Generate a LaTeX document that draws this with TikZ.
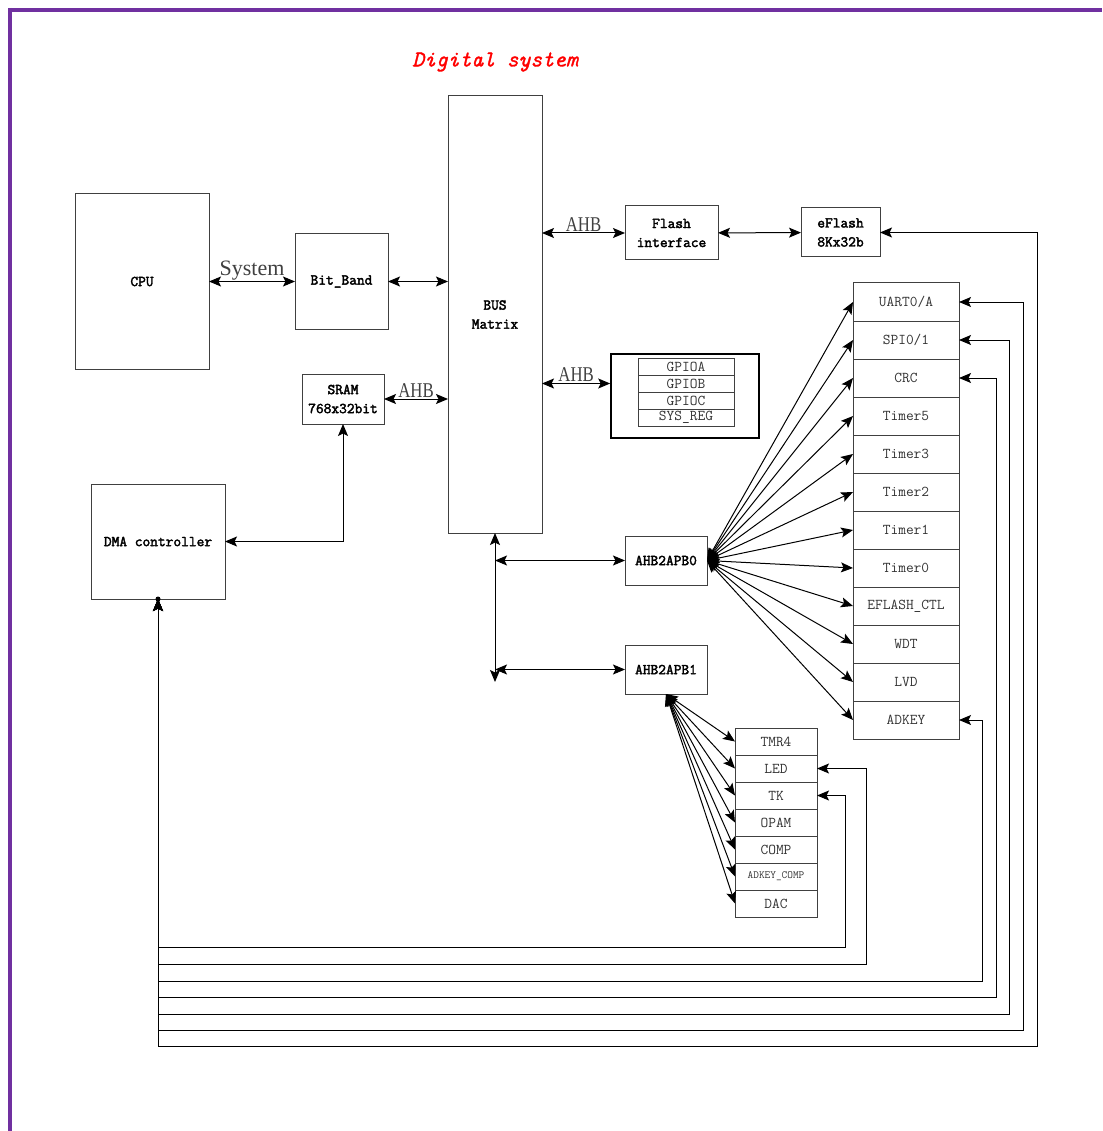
\documentclass[tikz,border=0pt]{standalone}
\usepackage{fontspec}
\setmainfont{Liberation Serif}
\newfontfamily\simserif{Liberation Serif}[FakeStretch=0.8]
\newfontfamily\simbold{Latin Modern Mono}[FakeBold=2.5]
\newfontfamily\simtitle{Latin Modern Mono}[FakeBold=1.5]
\usetikzlibrary{arrows.meta,positioning,calc}
\definecolor{frame}{HTML}{7030A0}
\definecolor{edge}{HTML}{404040}
\tikzset{box/.style={draw=edge,line width=1pt,inner sep=0pt,outer sep=0pt,align=center,
  font=\simbold\fontsize{15}{19}\selectfont},
  cell/.style={draw=edge,line width=1pt,inner sep=0pt,outer sep=0pt,
  font=\ttfamily\fontsize{15}{17}\selectfont,text=black!80},
  biarrow/.style={{Stealth[length=12pt,width=10pt,inset=2.5pt]}-{Stealth[length=12pt,width=10pt,inset=2.5pt]},line width=1pt},
  buslabel/.style={font=\simserif\fontsize{21}{23}\selectfont,text=black!75,inner sep=1pt}}

\begin{document}
\begin{tikzpicture}[x=1pt,y=-1pt]
\useasboundingbox (0,0) rectangle (1102,1131);
\draw[frame,line width=4pt] (8,10) -- (1102,10);
\draw[frame,line width=4pt] (9.5,8) -- (9.5,1131);
\node[text=red,font=\simtitle\itshape\fontsize{22.5}{26}\selectfont] (title) at (495,62) {Digital system};

% blocks
\node[box,minimum width=134pt,minimum height=175pt] (cpu) at (142,281.5) {CPU};
\node[box,minimum width=93pt,minimum height=95pt] (bitband) at (341.5,281.5) {Bit\_Band};
\node[box,minimum width=94pt,minimum height=437pt] (busmatrix) at (495,314.5) {BUS\\Matrix};
\node[box,minimum width=82pt,minimum height=50pt] (sram) at (343,399) {SRAM\\768x32bit};
\node[box,minimum width=93pt,minimum height=54pt] (flashif) at (671.5,233) {Flash\\interface};
\node[box,minimum width=79pt,minimum height=49pt] (eflash) at (840.5,232.5) {eFlash\\8Kx32b};
\node[box,minimum width=134pt,minimum height=115pt] (dma) at (158,541.5) {DMA controller};
\node[box,minimum width=82pt,minimum height=49pt] (apbzero) at (666,560.5) {AHB2APB0};
\node[box,minimum width=82pt,minimum height=49pt] (apbone) at (666,669.5) {AHB2APB1};

% gpio group
\node[draw,line width=1.6pt,minimum width=148pt,minimum height=84pt] (gpio) at (685,396) {};
\foreach \nm/\lbl [count=\i] in {gpioa/GPIOA,gpiob/GPIOB,gpioc/GPIOC,sysreg/SYS\_REG}
  \node[cell,minimum width=96pt,minimum height=17pt] (\nm) at (686,349.5+17*\i) {\lbl};

% APB0 peripherals
\foreach \nm/\lbl [count=\i] in {uart/{UART0/A},spi/{SPI0/1},crc/CRC,tfive/Timer5,tthree/Timer3,
  ttwo/Timer2,tone/Timer1,tzero/Timer0,eflashctl/EFLASH\_CTL,wdt/WDT,lvd/LVD,adkey/ADKEY}
  {\node[cell,minimum width=106pt,minimum height=38pt] (\nm) at (906,264+38*\i) {\lbl};
   \draw[biarrow] (apbzero.east) -- (\nm.west);}

% APB1 peripherals
\foreach \nm/\lbl [count=\i] in {tmr/TMR4,led/LED,tk/TK,opam/OPAM,comp/COMP,
  adkeycomp/{\fontsize{11}{13}\selectfont ADKEY\_COMP},dac/DAC}
  {\node[cell,minimum width=82pt,minimum height=27pt] (\nm) at (776,714.5+27*\i) {\lbl};
   \draw[biarrow] (apbone.south) -- (\nm.west);}

% bus connections
\draw[biarrow] (cpu) -- node[buslabel,above,font=\fontsize{22}{24}\selectfont] {System} (bitband);
\draw[biarrow] (bitband.east) -- (bitband.east -| busmatrix.west);
\draw[biarrow] (sram.east) -- node[buslabel,above] {AHB} (sram.east -| busmatrix.west);
\draw[biarrow] (flashif.west -| busmatrix.east) -- node[buslabel,above] {AHB} (flashif.west);
\draw[biarrow] (flashif) -- (eflash);
\draw[biarrow] (busmatrix.east |- gpiob) -- node[buslabel,above] {AHB} (gpio.west |- gpiob);
\coordinate (busend) at (495,682);
\coordinate (tapzero) at (495,560.5);
\coordinate (tapone) at (495,669.5);
\draw[biarrow] (busmatrix.south) -- (busend);
\draw[biarrow] (tapzero) -- (apbzero.west);
\draw[biarrow] (tapone) -- (apbone.west);
\draw[biarrow] (dma.east) -| (sram.south);

% DMA request lines
\foreach \tgt/\xx/\yy in {tk/845/947,led/866/964,adkey/982/981,crc/996/997,
  spi/1009/1014,uart/1023/1030,eflash/1037/1046}
  \draw[biarrow] (dma.south) |- (\xx,\yy) |- (\tgt.east);
\fill (dma.south) circle (2.5pt);
\end{tikzpicture}
\end{document}
